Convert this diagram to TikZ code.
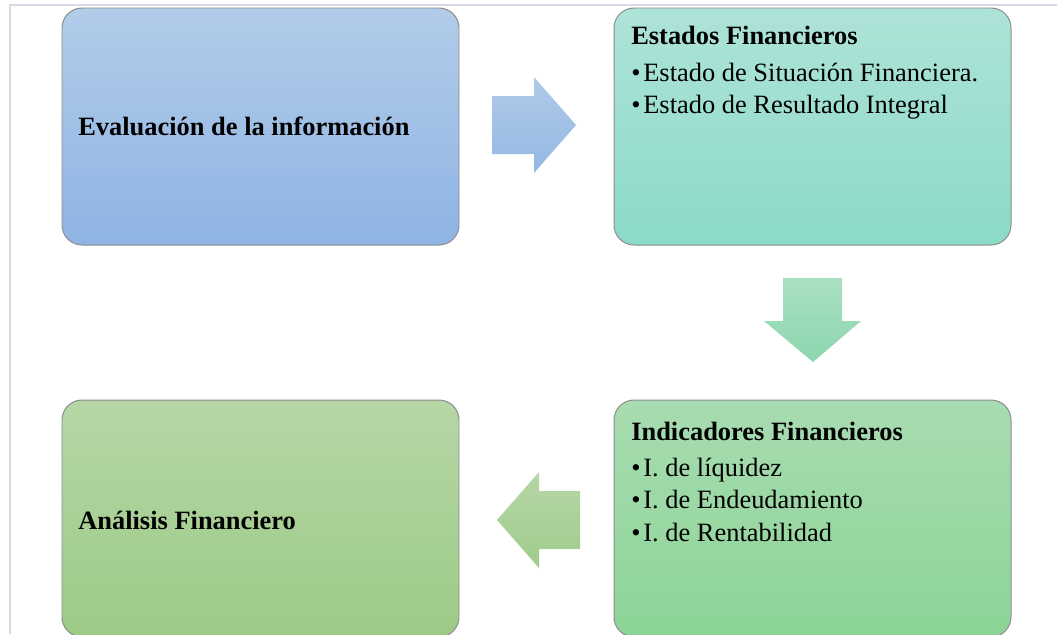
\documentclass[tikz,border=0pt]{standalone}
\usepackage{fontspec}
\setmainfont{Liberation Serif}
\definecolor{framegray}{RGB}{214,218,230}
\definecolor{blueTop}{RGB}{178,204,233}
\definecolor{blueBot}{RGB}{142,180,227}
\definecolor{tealTop}{RGB}{174,227,216}
\definecolor{tealBot}{RGB}{139,218,200}
\definecolor{mintTop}{RGB}{168,220,178}
\definecolor{mintBot}{RGB}{140,212,150}
\definecolor{leafTop}{RGB}{182,214,166}
\definecolor{leafBot}{RGB}{156,203,134}
\definecolor{arrBlueTop}{RGB}{176,202,233}
\definecolor{arrBlueBot}{RGB}{148,184,228}
\definecolor{arrMintTop}{RGB}{170,224,194}
\definecolor{arrMintBot}{RGB}{140,214,174}
\definecolor{arrLeafTop}{RGB}{182,214,166}
\definecolor{arrLeafBot}{RGB}{160,204,140}

\begin{document}
\begin{tikzpicture}[x=0.025cm,y=-0.025cm,
  card/.style={draw=black!45,line width=0.7pt,rounded corners=0.5cm},
  txt/.style={anchor=base west,inner sep=0pt,font=\fontsize{18.8}{22}\selectfont},
  head/.style={txt,font=\fontsize{18.8}{22}\selectfont\bfseries}]
\useasboundingbox (0,0) rectangle (1057,634);

% Frame
\draw[framegray,line width=0.8pt] (1057,5) -- (10,5) -- (10,634);

% Boxes
\shade[card,top color=blueTop,bottom color=blueBot] (62,8) rectangle (459,245);
\shade[card,top color=tealTop,bottom color=tealBot] (614,8) rectangle (1011,245);
\shade[card,top color=mintTop,bottom color=mintBot] (614,400) rectangle (1011,637);
\shade[card,top color=leafTop,bottom color=leafBot] (62,400) rectangle (459,637);

% Arrows
\shade[top color=arrBlueTop,bottom color=arrBlueBot]
  (492,96) -- (534,96) -- (534,77) -- (576,125) -- (534,173) -- (534,154) -- (492,154) -- cycle;
\shade[top color=arrMintTop,bottom color=arrMintBot]
  (783,278) -- (842,278) -- (842,321) -- (861,321) -- (813,362) -- (764,321) -- (783,321) -- cycle;
\shade[top color=arrLeafTop,bottom color=arrLeafBot]
  (580,491) -- (539,491) -- (539,472) -- (497,520) -- (539,568) -- (539,549) -- (580,549) -- cycle;

% Texts
\node[head] (eval) at (78,135) {Evaluación de la información};

\node[head] (est) at (631,44) {Estados Financieros};
\node[txt] (est1) at (631,81) {•\kern2pt Estado de Situación Financiera.};
\node[txt] (est2) at (631,113) {•\kern2pt Estado de Resultado Integral};

\node[head] (ind) at (631,440) {Indicadores Financieros};
\node[txt] (ind1) at (631,476) {•\kern2pt I. de líquidez};
\node[txt] (ind2) at (631,508) {•\kern2pt I. de Endeudamiento};
\node[txt] (ind3) at (631,541) {•\kern2pt I. de Rentabilidad};

\node[head] (anal) at (78,529) {Análisis Financiero};
\end{tikzpicture}
\end{document}
